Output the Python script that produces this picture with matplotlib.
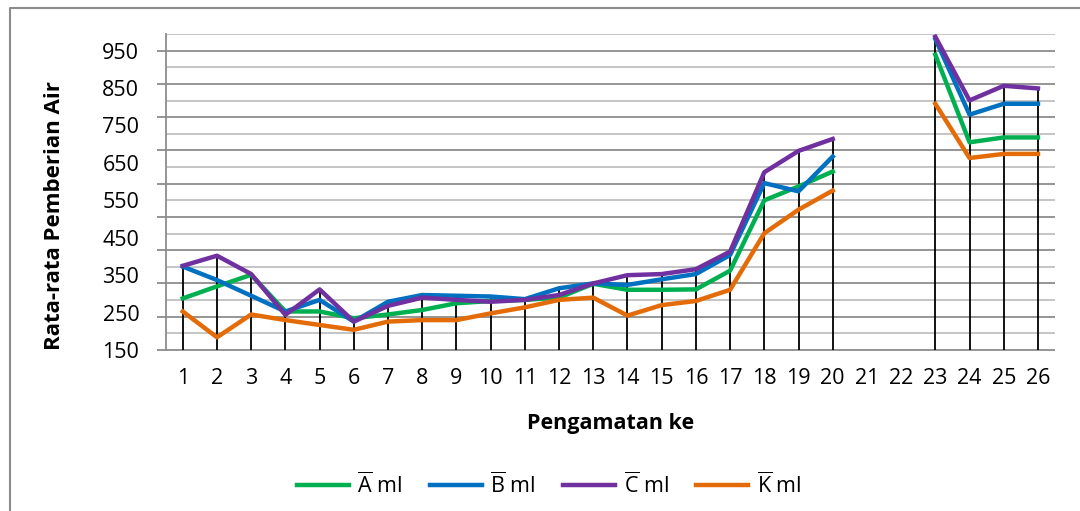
import numpy as np
import matplotlib
matplotlib.use('Agg')
import matplotlib.pyplot as plt

plt.rcParams['font.family'] = ['Open Sans', 'DejaVu Sans']
plt.rcParams['mathtext.fontset'] = 'custom'
plt.rcParams['mathtext.rm'] = 'Open Sans'

# data (21 and 22 have no values)
obs = np.arange(1, 27)
obs_labels = [str(i) for i in obs]
nan = np.nan
A = [288, 320, 351, 253, 253, 235, 245, 257, 275, 281, 284, 290, 327, 311, 311, 312, 362,
     550, 587, 627, nan, nan, 939, 705, 718, 718]
B = [373, 337, 295, 253, 284, 226, 279, 297, 295, 293, 286, 315, 328, 324, 339, 353, 404,
     596, 574, 667, nan, nan, 981, 779, 808, 808]
C = [375, 402, 353, 244, 312, 226, 268, 290, 284, 279, 284, 297, 328, 350, 353, 366, 413,
     625, 682, 714, nan, nan, 987, 817, 856, 849]
K = [253, 184, 245, 230, 217, 204, 226, 230, 230, 248, 264, 284, 290, 242, 270, 281, 311,
     462, 525, 576, nan, nan, 808, 663, 674, 674]
series_names = [r'$\overline{\mathrm{A}}$ ml', r'$\overline{\mathrm{B}}$ ml',
                r'$\overline{\mathrm{C}}$ ml', r'$\overline{\mathrm{K}}$ ml']
colors = ['#00b050', '#0070c0', '#7030a0', '#e36c09']
yticks = list(range(150, 1000, 100))

fig = plt.figure(figsize=(10.8, 5.11), dpi=100)
ax = fig.add_axes([0.1534, 0.315, 0.8235, 0.6185])

# gridlines (19 bands, darker every other one with a small outward tick)
grid = 150 + np.arange(20) * 800 / 18
ax.hlines(grid[1::2], 0.5, 26.5, color='#c0c0c0', lw=1.3, zorder=1)
ax.hlines(grid[::2], 0.24, 26.5, color='#8c8c8c', lw=1.3, zorder=1, clip_on=False)

# drop lines
tops = np.max(np.vstack([A, B, C, K]), axis=0)
ax.vlines(obs, 150, tops, color='black', lw=1.3, zorder=2)

for vals, c, name in zip([A, B, C, K], colors, series_names):
    ax.plot(obs, vals, color=c, lw=3.2, label=name, zorder=3)

ax.set_xlim(0.5, 26.5)
ax.set_ylim(150, grid[-1])
ax.set_xticks(obs, obs_labels)
ax.set_yticks(yticks, [str(v) for v in yticks])
ax.tick_params(axis='both', length=0, labelsize=15.5)
ax.tick_params(axis='y', pad=19)
ax.tick_params(axis='x', pad=13)
for s in ['top', 'right', 'bottom']:
    ax.spines[s].set_visible(False)
ax.spines['left'].set_color('#8c8c8c')
ax.spines['left'].set_linewidth(1.3)

ax.set_xlabel('Pengamatan ke', fontsize=15.5, fontweight='bold')
ax.xaxis.set_label_coords(0.4998, -0.231)
ax.xaxis.label.set_va('center')
ax.set_ylabel('Rata-rata Pemberian Air', fontsize=16, fontweight='bold')
ax.yaxis.set_label_coords(-0.1245, 0.427)
ax.yaxis.label.set_va('center')

fig.legend(loc='center', bbox_to_anchor=(549 / 1080, 1 - 485 / 511), ncol=4,
           frameon=False, fontsize=15.5, handlelength=2.4, handletextpad=0.4,
           columnspacing=1.3)

# outer chart border (only left and top are inside the picture)
fig.add_artist(plt.Line2D([10 / 1080, 10 / 1080, 1], [0, 1 - 8 / 511, 1 - 8 / 511],
                          transform=fig.transFigure, color='#8c8c8c', lw=1.5))

fig.savefig('out.png', dpi=100)
